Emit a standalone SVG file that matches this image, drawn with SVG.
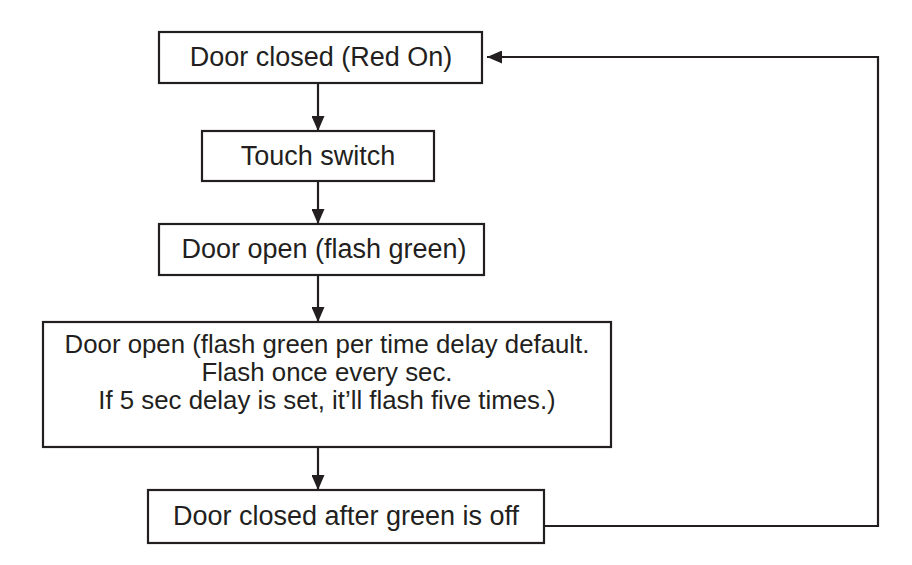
<svg xmlns="http://www.w3.org/2000/svg" width="912" height="565" viewBox="0 0 912 565">
<style>
.box{fill:#fff;stroke:#231f20;stroke-width:2.2}
.t{font-family:"Liberation Sans",Arial,sans-serif;font-size:27px;fill:#231f20;text-anchor:middle}
.c{fill:none;stroke:#231f20;stroke-width:2.2}
</style>
<defs>
<marker id="ah" markerUnits="userSpaceOnUse" markerWidth="15" markerHeight="13" refX="15" refY="6.5" orient="auto">
<path d="M0,0 L15,6.5 L0,13 z" fill="#231f20"/>
</marker>
</defs>
<rect width="912" height="565" fill="#fff"/>
<g id="connectors">
<line class="c" x1="318" y1="83" x2="318" y2="131" marker-end="url(#ah)"/>
<line class="c" x1="318" y1="181" x2="318" y2="224" marker-end="url(#ah)"/>
<line class="c" x1="318" y1="275" x2="318" y2="322" marker-end="url(#ah)"/>
<line class="c" x1="318" y1="447" x2="318" y2="490" marker-end="url(#ah)"/>
<polyline class="c" points="544,526 878,526 878,57 487,57" marker-end="url(#ah)"/>
</g>
<g id="n1">
<rect class="box" x="159" y="32" width="323" height="51"/>
<text class="t" x="321" y="66">Door closed (Red On)</text>
</g>
<g id="n2">
<rect class="box" x="202" y="131" width="232" height="50"/>
<text class="t" x="318" y="165">Touch switch</text>
</g>
<g id="n3">
<rect class="box" x="159" y="224" width="325" height="51"/>
<text class="t" x="324" y="258">Door open (flash green)</text>
</g>
<g id="n4">
<rect class="box" x="43" y="322" width="568" height="125"/>
<text class="t" x="327" y="353" style="font-size:25.8px">Door open (flash green per time delay default.</text>
<text class="t" x="327" y="381" style="font-size:25.8px">Flash once every sec.</text>
<text class="t" x="327" y="409" style="font-size:25.8px">If 5 sec delay is set, it’ll flash five times.)</text>
</g>
<g id="n5">
<rect class="box" x="148" y="490" width="396" height="53"/>
<text class="t" x="346" y="525">Door closed after green is off</text>
</g>
</svg>
